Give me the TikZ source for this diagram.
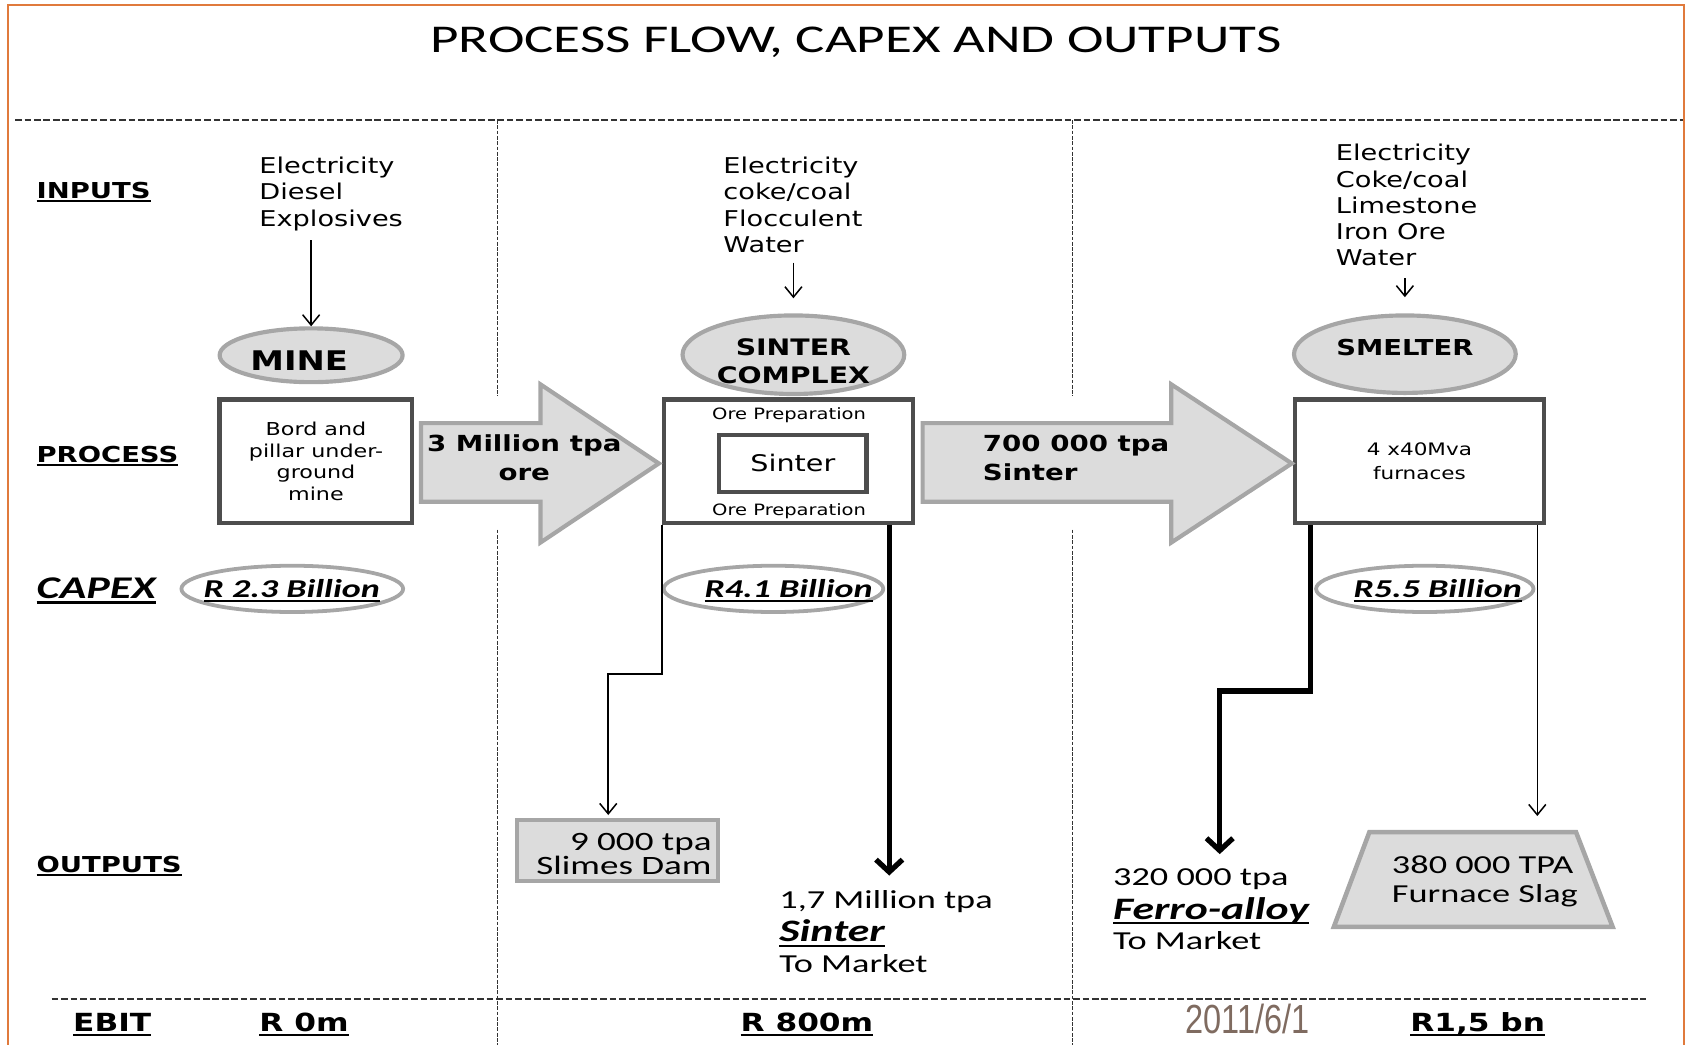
\documentclass[tikz,border=0pt]{standalone}
\usepackage{fontspec}
\setmainfont{DejaVu Sans}
\newfontfamily\vf{DejaVu Sans}[FakeStretch=1.25]
\newfontfamily\cf{Carlito}[FakeStretch=1.4]
\newfontfamily\nf{Liberation Sans}[FakeStretch=0.8]
\usetikzlibrary{shapes.geometric,arrows.meta,calc}
\newcommand\fsz[2]{\fontsize{#1pt}{#2pt}\selectfont}
\newcommand\ulx[1]{\setbox0\hbox{#1}\rlap{\rule[-0.16em]{\wd0}{0.075em}}\box0}
\definecolor{frameor}{HTML}{E07A3C}
\definecolor{gfill}{HTML}{DCDCDC}
\definecolor{gbd}{HTML}{A6A6A6}
\definecolor{dbox}{HTML}{4D4D4D}
\definecolor{datec}{HTML}{7F6B60}
\definecolor{dashc}{HTML}{333333}
\begin{document}
\begin{tikzpicture}[x=0.02cm,y=-0.02cm,
  txt/.style={inner sep=0pt,outer sep=0pt},
  procell/.style={ellipse,draw=gbd,fill=gfill,line width=2.2pt,inner sep=0pt},
  procbox/.style={rectangle,draw=dbox,fill=white,line width=2.3pt,inner sep=0pt},
  capell/.style={ellipse,draw=gbd,line width=2pt,inner sep=0pt},
  outbox/.style={rectangle,draw=gbd,fill=gfill,line width=2.2pt,inner sep=0pt},
  blockarrow/.style={draw=gbd,fill=gfill,line width=2.2pt,line join=miter},
  thinarr/.style={draw=black,line width=0.8pt,-{Straight Barb[length=5.5pt,width=9pt]}},
  thickarr/.style={draw=black,line width=2.8pt,-{Straight Barb[length=6.5pt,width=14pt]}},
  hdash/.style={draw=dashc,line width=0.75pt,dash pattern=on 3.5pt off 1.5pt},
  vdash/.style={draw=dashc,line width=0.6pt,dash pattern=on 2pt off 0.8pt},
  rowlab/.style={txt,anchor=base west,font=\vf\bfseries\fsz{11.6}{14}},
  inlist/.style={txt,anchor=north west,align=left,font=\vf\fsz{11.5}{13.9}},
  bigbold/.style={txt,font=\vf\bfseries\fsz{12}{14.8}},
  capval/.style={txt,anchor=base,font=\cf\bfseries\itshape\fsz{13.6}{16}},
  outreg/.style={txt,font=\cf\fsz{13.7}{16}},
  outbi/.style={txt,font=\cf\bfseries\itshape\fsz{16.5}{20}},
  ebit/.style={txt,anchor=base west,font=\vf\bfseries\fsz{13.2}{15}}
]
\useasboundingbox (0,0) rectangle (1568,970);
% frame
\draw[frameor,line width=1.3pt] (7.5,975) -- (7.5,4.6) -- (1564.5,4.6) -- (1564.5,975);
% dashed grid
\draw[hdash] (14,111.5) -- (1563,111.5);
\draw[hdash] (48,928) -- (1529,928);
\draw[vdash] (462,111.5) -- (462,368);
\draw[vdash] (462,492) -- (462,975);
\draw[vdash] (996,111.5) -- (996,368);
\draw[vdash] (996,492) -- (996,975);

% title
\node[txt,anchor=base,font=\cf\fsz{20.8}{24}] (title) at (795,48.5) {PROCESS FLOW, CAPEX AND OUTPUTS};

% row labels
\node[rowlab] (linputs) at (34,184) {\ulx{INPUTS}};
\node[rowlab] (lprocess) at (34,429.5) {\ulx{PROCESS}};
\node[txt,anchor=base west,font=\cf\bfseries\itshape\fsz{16.7}{20}] (lcapex) at (34,556) {\ulx{CAPEX}};
\node[rowlab] (loutputs) at (34,810.5) {\ulx{OUTPUTS}};
\node[ebit] (lebit) at (68,958.5) {\ulx{EBIT}};

% inputs
\node[inlist] (in1) at (241,146) {Electricity\\Diesel\\Explosives};
\node[inlist] (in2) at (672,146) {Electricity\\coke/coal\\Flocculent\\Water};
\node[inlist] (in3) at (1241,134) {Electricity\\Coke/coal\\Limestone\\Iron Ore\\Water};

% process ellipses
\node[procell,minimum width=3.40cm,minimum height=1.00cm] (mine) at (289,330) {};
\node[txt,anchor=base,font=\vf\bfseries\fsz{14.3}{16}] (minet) at (278,344) {MINE};
\node[procell,minimum width=4.12cm,minimum height=1.46cm] (sel) at (737,329.5) {};
\node[bigbold,anchor=north,align=center] (selt) at (737,314.5) {SINTER\\COMPLEX};
\node[procell,minimum width=4.12cm,minimum height=1.44cm] (sml) at (1305,329) {};
\node[bigbold,anchor=base,font=\vf\bfseries\fsz{11.6}{14.8}] (smlt) at (1305,330) {SMELTER};

% process boxes
\node[procbox,minimum width=3.58cm,minimum height=2.30cm,align=center,font=\vf\fsz{9.4}{11.4}] (mbox) at (293.5,428.5) {Bord and\\pillar under-\\ground\\mine};
\node[procbox,minimum width=4.62cm,minimum height=2.30cm] (sbox) at (732.5,428.5) {};
\node[procbox,minimum width=2.74cm,minimum height=1.06cm,font=\vf\fsz{12.1}{14}] (ibox) at (736.5,430.5) {Sinter};
\node[txt,anchor=base,font=\vf\fsz{8.25}{10}] (orep1) at (733,390) {Ore Preparation};
\node[txt,anchor=base,font=\vf\fsz{8.25}{10}] (orep2) at (733,479) {Ore Preparation};
\node[procbox,minimum width=4.62cm,minimum height=2.30cm,align=center,font=\vf\fsz{9.1}{12.5}] (smbox) at (1318.5,428.5) {4 x40Mva\\furnaces};

% block arrows
\draw[blockarrow] (391,393) -- (502,393) -- (502,357) -- (612,430.5) -- (502,504) -- (502,466) -- (391,466) -- cycle;
\node[txt,anchor=north,align=center,font=\vf\bfseries\fsz{11.7}{15.4}] (a1t) at (487,404) {3 Million tpa\\ore};
\draw[blockarrow] (857,393) -- (1088,393) -- (1088,357) -- (1200,430.5) -- (1088,504) -- (1088,466) -- (857,466) -- cycle;
\node[txt,anchor=north west,align=left,font=\vf\bfseries\fsz{11.7}{15.4}] (a2t) at (913,404) {700 000 tpa\\Sinter};

% input arrows
\draw[thinarr] ($(in1.south -| mine.north)+(0,9)$) -- (mine.north);
\draw[thinarr] ($(in2.south -| sel.north)+(0,9)$) -- ($(sel.north)+(0,-14)$);
\draw[thinarr] ($(in3.south -| sml.north)+(0,11)$) -- ($(sml.north)+(0,-15)$);

% capex
\node[capell,minimum width=4.12cm,minimum height=0.86cm] (cap1) at (271.5,547) {};
\node[capval] (cap1t) at (271,555) {\ulx{R 2.3 Billion}};
\node[capell,minimum width=4.08cm,minimum height=0.86cm] (cap2) at (718.5,547) {};
\node[capval] (cap2t) at (732.5,555) {\ulx{R4.1 Billion}};
\node[capell,minimum width=4.04cm,minimum height=0.86cm] (cap3) at (1323.5,547) {};
\node[capval] (cap3t) at (1335.5,555) {\ulx{R5.5 Billion}};

% outputs
\node[outbox,minimum width=3.74cm,minimum height=1.12cm] (slimes) at (573.5,790) {};
\node[outreg,anchor=base east,font=\cf\fsz{14}{16}] (sli1) at (661,790) {9 000 tpa};
\node[outreg,anchor=base east,font=\cf\fsz{14}{16}] (sli2) at (661,812) {Slimes Dam};

\node[outreg,anchor=base west] (so1) at (724,844) {1,7 Million tpa};
\node[outbi,anchor=base west] (so2) at (724,875) {\ulx{Sinter}};
\node[outreg,anchor=base west] (so3) at (724,903) {To Market};

\node[outreg,anchor=base west] (fo1) at (1034,823) {320 000 tpa};
\node[outbi,anchor=base west] (fo2) at (1034,854) {\ulx{Ferro-alloy}};
\node[outreg,anchor=base west] (fo3) at (1034,882) {To Market};

\draw[draw=gbd,fill=gfill,line width=2.4pt,line join=miter] (1239,861) -- (1272,773) -- (1464,773) -- (1498,861) -- cycle;
\coordinate (slagN) at (1368.5,773);
\node[outreg,anchor=base west] (sl1) at (1293,811) {380 000 TPA};
\node[outreg,anchor=base west] (sl2) at (1293,838) {Furnace Slag};

% output connectors
\coordinate (bend1) at (565,626);
\draw[thinarr] (sbox.south west) |- (bend1) -- ($(slimes.north -| bend1)+(0,-3)$);
\coordinate (st1) at ($(sbox.south east)+(-24,0)$);
\draw[thickarr] (st1) -- ($(so1.north -| st1)+(0,-14)$);
\coordinate (st2) at ($(smbox.south west)+(16,0)$);
\coordinate (bend2) at (1133,642);
\draw[thickarr] (st2) |- (bend2) -- ($(fo1.north -| bend2)+(0,-14)$);
\coordinate (st3) at ($(smbox.south east)+(-8,0)$);
\draw[thinarr] (st3) -- ($(slagN -| st3)+(0,-15)$);

% EBIT row
\node[ebit] (e1) at (241,958.5) {\ulx{R 0m}};
\node[ebit] (e2) at (688,958.5) {\ulx{R 800m}};
\node[txt,anchor=base,font=\nf\fsz{21.5}{24},text=datec] (date) at (1159,960) {2011/6/1};
\node[ebit] (e3) at (1310,958.5) {\ulx{R1,5 bn}};
\end{tikzpicture}
\end{document}
